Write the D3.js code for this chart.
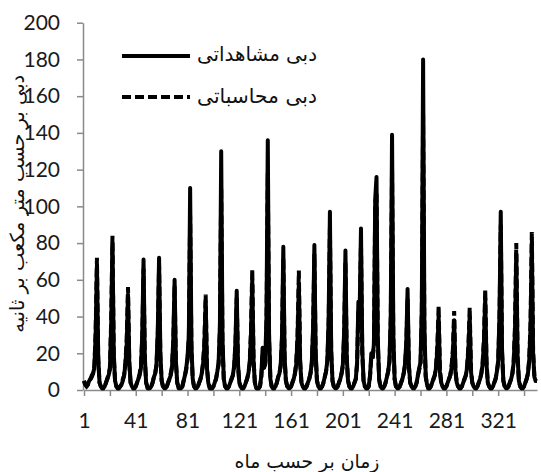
<!DOCTYPE html>
<html>
<head>
<meta charset="utf-8">
<script src="https://cdn.jsdelivr.net/npm/d3@7"></script>
<style>
  body { margin: 0; background: #fff; }
  #chart { position: relative; width: 541px; height: 472px; }
  .fa { position: absolute; white-space: nowrap; line-height: 1; color: #111;
        font-family: 'DejaVu Sans', sans-serif; direction: rtl; }
</style>
</head>
<body>
<div id="chart"></div>
<script>
// monthly discharge, observed vs computed (m3/s), one row per 12 months
const observed = [
  5, 3, 2, 3, 5, 6, 8, 9, 12, 30, 68, 18,
  4, 2, 1, 1, 2, 4, 6, 8, 11, 35, 80, 20,
  5, 2, 1, 1, 2, 3, 5, 8, 14, 25, 52, 15,
  4, 2, 1, 1, 2, 4, 6, 8, 12, 30, 71, 18,
  4, 1, 1, 1, 2, 4, 7, 9, 14, 32, 72, 20,
  5, 2, 1, 1, 2, 4, 6, 8, 12, 28, 60, 16,
  4, 1, 1, 1, 2, 5, 8, 12, 18, 30, 110, 25,
  6, 2, 1, 1, 2, 4, 6, 9, 14, 24, 48, 12,
  4, 1, 1, 1, 2, 4, 6, 10, 15, 35, 130, 28,
  6, 2, 1, 1, 2, 4, 6, 8, 13, 26, 54, 14,
  4, 2, 1, 1, 2, 4, 6, 9, 14, 30, 60, 16,
  4, 1, 1, 1, 2, 8, 23, 12, 15, 40, 136, 30,
  6, 2, 1, 1, 2, 4, 7, 9, 14, 30, 78, 18,
  5, 2, 1, 1, 2, 4, 6, 9, 14, 28, 58, 15,
  4, 2, 1, 1, 2, 4, 6, 9, 15, 34, 79, 20,
  5, 2, 1, 1, 2, 4, 7, 10, 16, 38, 97, 22,
  5, 2, 1, 1, 2, 4, 6, 9, 14, 32, 76, 18,
  5, 2, 1, 1, 2, 4, 6, 15, 48, 44, 88, 22,
  5, 2, 1, 1, 2, 8, 20, 18, 25, 104, 116, 28,
  6, 2, 1, 1, 2, 4, 7, 10, 16, 40, 139, 30,
  6, 2, 1, 1, 2, 4, 6, 9, 14, 26, 55, 14,
  4, 2, 1, 1, 2, 4, 8, 12, 15, 45, 180, 35,
  8, 3, 1, 1, 2, 4, 6, 8, 12, 22, 40, 10,
  4, 2, 1, 1, 2, 4, 6, 8, 12, 20, 38, 10,
  4, 2, 1, 1, 2, 4, 6, 8, 12, 22, 40, 10,
  4, 2, 1, 1, 2, 4, 6, 9, 14, 26, 50, 14,
  4, 2, 1, 1, 2, 4, 6, 10, 16, 40, 97, 22,
  5, 2, 1, 1, 2, 4, 6, 9, 15, 32, 74, 18,
  5, 2, 1, 1, 2, 4, 6, 9, 16, 34, 80, 20,
  7, 5, 5
];

const computed = [
  5, 3, 2, 3, 4, 6, 7, 9, 13, 32, 72, 16,
  4, 2, 1, 1, 2, 4, 6, 9, 12, 38, 84, 18,
  5, 2, 1, 1, 2, 3, 6, 8, 15, 28, 56, 14,
  4, 2, 1, 1, 2, 4, 6, 9, 13, 28, 66, 17,
  4, 2, 1, 1, 2, 4, 7, 9, 13, 30, 68, 18,
  5, 2, 1, 1, 2, 4, 6, 9, 13, 26, 57, 15,
  4, 2, 1, 1, 2, 5, 8, 11, 17, 28, 95, 22,
  6, 2, 1, 1, 2, 4, 6, 9, 15, 26, 52, 13,
  4, 2, 1, 1, 2, 4, 6, 10, 14, 32, 110, 25,
  6, 2, 1, 1, 2, 4, 6, 8, 12, 24, 50, 13,
  4, 2, 1, 1, 2, 4, 6, 9, 15, 32, 66, 17,
  4, 2, 1, 1, 2, 7, 20, 12, 14, 36, 118, 27,
  6, 2, 1, 1, 2, 4, 7, 9, 13, 28, 72, 17,
  5, 2, 1, 1, 2, 4, 6, 9, 15, 30, 65, 16,
  4, 2, 1, 1, 2, 4, 6, 9, 14, 32, 74, 19,
  5, 2, 1, 1, 2, 4, 7, 10, 15, 35, 88, 20,
  5, 2, 1, 1, 2, 4, 6, 9, 13, 30, 70, 17,
  5, 2, 1, 1, 2, 4, 6, 14, 44, 40, 80, 20,
  5, 2, 1, 1, 2, 7, 18, 17, 24, 100, 108, 26,
  6, 2, 1, 1, 2, 4, 7, 10, 15, 38, 120, 27,
  6, 2, 1, 1, 2, 4, 6, 9, 13, 24, 50, 13,
  4, 2, 1, 1, 2, 4, 8, 11, 14, 42, 150, 30,
  7, 3, 1, 1, 2, 4, 6, 8, 13, 24, 46, 11,
  4, 2, 1, 1, 2, 4, 6, 8, 13, 22, 43, 11,
  4, 2, 1, 1, 2, 4, 6, 8, 13, 24, 45, 11,
  4, 2, 1, 1, 2, 4, 6, 9, 15, 28, 55, 15,
  4, 2, 1, 1, 2, 4, 6, 10, 15, 38, 90, 20,
  5, 2, 1, 1, 2, 4, 6, 9, 16, 35, 80, 19,
  5, 2, 1, 1, 2, 4, 6, 9, 17, 36, 86, 21,
  7, 5, 5
];

const months = d3.range(1, observed.length + 1);
const yTicks = [0, 20, 40, 60, 80, 100, 120, 140, 160, 180, 200];
const xTickMarks = d3.range(1, observed.length + 1, 20);
const xTickLabels = [1, 41, 81, 121, 161, 201, 241, 281, 321];
const seriesNames = ["دبی مشاهداتی", "دبی محاسباتی"];
const xTitle = "زمان بر حسب ماه";
const yTitle = "دبی بر حسب متر مکعب بر ثانیه";

const width = 541, height = 472;
const margin = { top: 22.7, right: 4, bottom: 82, left: 83 };

const chart = d3.select("#chart");
const svg = chart.append("svg")
    .attr("width", width).attr("height", height)
    .style("display", "block");

const x = d3.scaleLinear().domain([1, months.length]).range([margin.left + 1, width - margin.right]);
const y = d3.scaleLinear().domain([0, 200]).range([height - margin.bottom, margin.top]);

const axisColor = "#8a8a8a";
const numFont = "Lato, 'Open Sans', sans-serif";

// axes
const yAxis = svg.append("g")
    .attr("transform", `translate(${margin.left},0)`)
    .call(d3.axisLeft(y).tickValues(yTicks).tickSize(6).tickSizeOuter(0).tickPadding(17));

const xAxis = svg.append("g")
    .attr("transform", `translate(0,${height - margin.bottom})`)
    .call(d3.axisBottom(x).tickValues(xTickMarks).tickSize(6).tickSizeOuter(0).tickPadding(17)
        .tickFormat(d => xTickLabels.includes(d) ? d : ""));

[yAxis, xAxis].forEach(g => {
    g.select(".domain").attr("stroke", axisColor).attr("stroke-width", 1.5);
    g.selectAll(".tick line").attr("stroke", axisColor).attr("stroke-width", 1.5);
    g.selectAll(".tick text")
        .style("font-family", numFont).style("font-size", "21px").attr("fill", "#1a1a1a");
});

// lines
const line = d3.line().x((d, i) => x(months[i])).y(d => y(d));

svg.append("path").datum(observed)
    .attr("d", line)
    .attr("fill", "none").attr("stroke", "#000").attr("stroke-width", 4)
    .attr("stroke-linejoin", "round");

svg.append("path").datum(computed)
    .attr("d", line)
    .attr("fill", "none").attr("stroke", "#000").attr("stroke-width", 4)
    .attr("stroke-dasharray", "9,4");

// legend keys
[56, 97].forEach((ly, i) => {
    svg.append("line")
        .attr("x1", 122).attr("x2", 190).attr("y1", ly).attr("y2", ly)
        .attr("stroke", "#000").attr("stroke-width", 4)
        .attr("stroke-dasharray", i === 1 ? "9,4" : null);
});

// persian labels as html so the rtl layout is measured by the browser;
// font size is fitted to the width the label takes in the picture
function faLabel(str, targetW, cx, cy, rotate) {
    const d = chart.append("div").attr("class", "fa").style("font-size", "18px").text(str);
    const w0 = d.node().getBoundingClientRect().width;
    d.style("font-size", (18 * targetW / w0) + "px");
    const r = d.node().getBoundingClientRect();
    d.style("left", (cx - r.width / 2) + "px").style("top", (cy - r.height / 2) + "px");
    if (rotate) d.style("transform", "rotate(-90deg)").style("transform-origin", "50% 50%");
    return d;
}

faLabel(seriesNames[0], 120, 257, 55);
faLabel(seriesNames[1], 120, 257, 96);
faLabel(xTitle, 145, 307, 462);
faLabel(yTitle, 258, 18, 204, true);
</script>
</body>
</html>
